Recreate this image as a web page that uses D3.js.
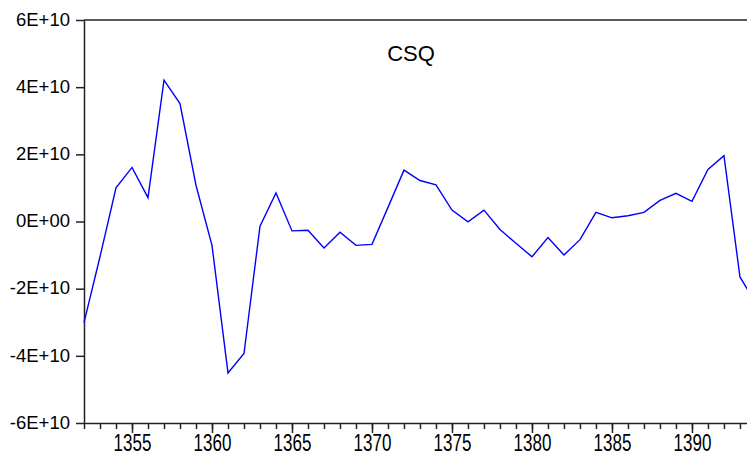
<!DOCTYPE html>
<html>
    <head>
        <meta charset="utf-8">
        <style>
            body { margin: 0; background: white; }
            svg { display: block; }
            .axis path, .axis line { stroke: #222; stroke-width: 1.5; }
            .axis text { font-family: Arial, "Liberation Sans", sans-serif; fill: black; }
            .title { font-family: Arial, "Liberation Sans", sans-serif; font-size: 22px; fill: black; text-anchor: middle; }
            .series { fill: none; stroke: #0000ff; stroke-width: 1.4; }
        </style>
        <script src="https://cdn.jsdelivr.net/npm/d3@7"></script>
    </head>
    <body>
        <div id="chart"></div>
        <script>
            // data (values in units of 1E+10)
            var title = "CSQ";
            var years = [1352, 1353, 1354, 1355, 1356, 1357, 1358, 1359, 1360, 1361,
                         1362, 1363, 1364, 1365, 1366, 1367, 1368, 1369, 1370, 1371,
                         1372, 1373, 1374, 1375, 1376, 1377, 1378, 1379, 1380, 1381,
                         1382, 1383, 1384, 1385, 1386, 1387, 1388, 1389, 1390, 1391,
                         1392, 1393, 1394];
            var csq = [-3.01, -1.05, 1.00, 1.61, 0.71, 4.21, 3.51, 1.08, -0.71, -4.51,
                       -3.93, -0.14, 0.85, -0.28, -0.26, -0.79, -0.32, -0.71, -0.68, 0.42,
                       1.53, 1.22, 1.09, 0.34, -0.01, 0.34, -0.24, -0.65, -1.05, -0.48,
                       -1.00, -0.54, 0.27, 0.11, 0.17, 0.27, 0.63, 0.84, 0.60, 1.55,
                       1.96, -1.65, -2.45];
            var y_ticks = [-6e10, -4e10, -2e10, 0, 2e10, 4e10, 6e10];
            var x_domain = [1352, 1393.44];

            var canvas_w = 747, canvas_h = 456;
            var plot_left = 84, plot_top = 20, plot_bottom = 423;

            var svg = d3.select("#chart").append("svg")
                        .attr("width", canvas_w).attr("height", canvas_h);

            var x = d3.scaleLinear().domain(x_domain).range([plot_left, canvas_w]);
            var y = d3.scaleLinear().domain([-6e10, 6e10]).range([plot_bottom, plot_top]);

            function expFormat(v) {
                if (v == 0) return "0E+00";
                return (v / 1e10) + "E+10";
            }

            // top border
            svg.append("line")
               .attr("x1", plot_left).attr("x2", canvas_w)
               .attr("y1", plot_top).attr("y2", plot_top)
               .attr("stroke", "#222").attr("stroke-width", 1.5);

            // y axis
            var yAxis = svg.append("g").attr("class", "axis")
               .attr("transform", "translate(" + plot_left + ",0)")
               .call(d3.axisLeft(y).tickValues(y_ticks).tickFormat(expFormat)
                       .tickSize(8).tickPadding(6).tickSizeOuter(0));
            yAxis.selectAll("text").style("font-size", "18.5px").attr("dy", "0.28em");

            // x axis: minor ticks every year, major every 5
            var allYears = d3.range(1352, 1394);
            var majorYears = allYears.filter(function(d) { return d % 5 == 0; });

            svg.append("g").attr("class", "axis")
               .attr("transform", "translate(0," + plot_bottom + ")")
               .call(d3.axisBottom(x).tickValues(allYears).tickFormat("")
                       .tickSize(6).tickSizeOuter(0));

            var xAxis = svg.append("g").attr("class", "axis")
               .attr("transform", "translate(0," + plot_bottom + ")")
               .call(d3.axisBottom(x).tickValues(majorYears).tickFormat(d3.format("d"))
                       .tickSize(10).tickSizeOuter(0));
            xAxis.select(".domain").remove();
            xAxis.selectAll("text")
                 .style("font-size", "17px")
                 .attr("y", 0).attr("dy", 0)
                 .attr("transform", "translate(0,28) scale(1,1.4)");

            // series line
            var line = d3.line()
                         .x(function(d, i) { return x(years[i]); })
                         .y(function(d) { return y(d * 1e10); });

            svg.append("path").datum(csq)
               .attr("class", "series")
               .attr("d", line);

            // title
            svg.append("text").attr("class", "title")
               .attr("x", 411).attr("y", 61)
               .text(title);
        </script>
    </body>
</html>
